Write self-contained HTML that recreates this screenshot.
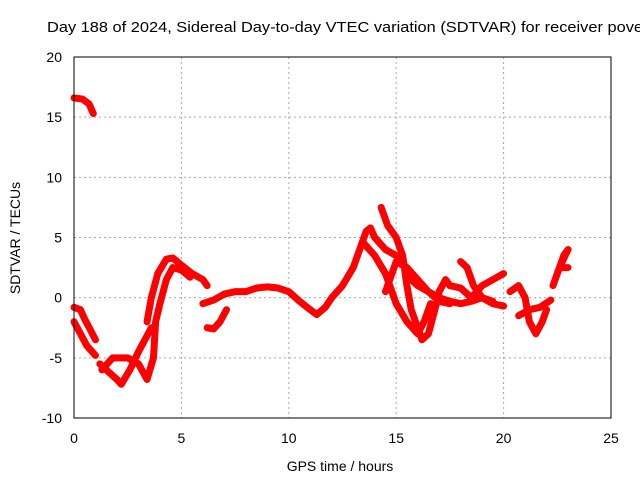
<!DOCTYPE html>
<html><head><meta charset="utf-8"><style>
body{margin:0;background:#fff;}
text{font-family:"Liberation Sans",sans-serif;}
</style></head><body>
<svg id="chart" width="640" height="480" viewBox="0 0 640 480" xmlns="http://www.w3.org/2000/svg">
<rect width="640" height="480" fill="#fff"/>
<text x="47" y="32" font-size="15" textLength="596" lengthAdjust="spacingAndGlyphs" fill="#000">Day 188 of 2024, Sidereal Day-to-day VTEC variation (SDTVAR) for receiver pove</text>
<g id="grid"></g>
<g id="series"></g>
<rect x="74" y="57" width="537" height="361" fill="none" stroke="#000" stroke-width="1"/>
<g id="axes"></g>
<text x="340" y="471" font-size="14" text-anchor="middle">GPS time / hours</text>
<text transform="translate(20,238) rotate(-90)" font-size="14" text-anchor="middle">SDTVAR / TECUs</text>
</svg>
<script>
const xTicks=[0,5,10,15,20,25];
const yTicks=[-10,-5,0,5,10,15,20];
const trackA=[[0,16.6],[0.4,16.5],[0.7,16.1],[0.9,15.3]];
const trackB=[[0,-0.8],[0.3,-1],[0.5,-1.8],[0.8,-2.8],[1,-3.5]];
const trackC=[[0,-2],[0.3,-3],[0.6,-4],[1,-4.8]];
const trackD=[[1.2,-5.5],[1.5,-6],[2,-6.8],[2.2,-7.2],[2.6,-6],[3,-4.5],[3.3,-3.5],[3.6,-2.5]];
const trackE=[[1.3,-6],[1.8,-5],[2.5,-5],[3,-5.5],[3.4,-6.8],[3.7,-5],[3.8,-2],[4,-0.5],[4.3,1.5],[4.6,2.5],[5,2.3],[5.4,1.7]];
const trackF=[[3.4,-2],[3.6,0],[3.9,2],[4.3,3.2],[4.6,3.3],[5,2.7],[5.5,2],[6,1.5],[6.2,1]];
const trackG=[[6,-0.5],[6.5,-0.2],[7,0.3],[7.5,0.5],[8,0.5],[8.5,0.8],[9,0.9],[9.5,0.8],[10,0.5],[10.5,-0.3],[11,-1],[11.3,-1.4],[11.7,-0.8],[12,0],[12.5,1],[13,2.5],[13.3,4],[13.6,5.5],[13.8,5.8],[14,5],[14.5,4],[15,3.5],[15.3,3],[15.7,1.5],[16,1],[16.5,0.5],[17,0],[17.5,-0.3],[18,-0.5],[18.5,-0.3],[19,0],[19.5,-0.5],[20,-0.7]];
const trackH=[[6.2,-2.5],[6.5,-2.6],[6.8,-2],[7.1,-1]];
const trackI=[[14.3,7.5],[14.6,6],[15,5],[15.3,3.5],[15.5,1],[15.7,-1],[16,-2.5],[16.2,-3.5],[16.5,-3],[16.8,-1],[17,0.5],[17.3,1.5],[17.5,1]];
const trackJ=[[13.5,4.5],[14,3.5],[14.5,2],[15,-0.5],[15.5,-2],[16,-3],[16.3,-2],[16.6,-0.5]];
const trackK=[[14.5,0.5],[15,3],[15.5,2.5],[16,1.5],[16.5,0.5],[17,-0.3],[17.5,-0.5]];
const trackL=[[18,3],[18.3,2.5],[18.6,1],[19,0],[19.5,-0.3]];
const trackM=[[17.5,1],[18,0.8],[18.5,0],[19,1],[19.5,1.5],[20,2]];
const trackN=[[20.3,0.5],[20.7,1],[21,0],[21.2,-2],[21.5,-3],[21.8,-2],[22,-1]];
const trackO=[[20.7,-1.5],[21.2,-1],[21.7,-0.8],[22.2,-0.2]];
const trackP=[[22.3,1],[22.5,2],[22.8,3.5],[23,4],[22.6,2.5],[23,2.5]];
const tracks=[trackA,trackB,trackC,trackD,trackE,trackF,trackG,trackH,trackI,trackJ,trackK,trackL,trackM,trackN,trackO,trackP];
const NS="http://www.w3.org/2000/svg";
function sx(v){return 74+(v-0)/25*537;}
function sy(v){return 418-(v+10)/30*361;}
const grid=document.getElementById('grid'),axes=document.getElementById('axes'),series=document.getElementById('series');
xTicks.forEach(t=>{
  if(t>0&&t<25){const l=document.createElementNS(NS,'line');
  
  
  l.setAttribute('x1',sx(t));l.setAttribute('x2',sx(t));l.setAttribute('y1',57);l.setAttribute('y2',418);
  l.setAttribute('stroke','#aaa');l.setAttribute('stroke-dasharray','2,3');grid.appendChild(l);}
  const tx=document.createElementNS(NS,'text');
  
  
  tx.setAttribute('x',sx(t));tx.setAttribute('y',443);tx.setAttribute('font-size','14');tx.setAttribute('text-anchor','middle');
  tx.textContent=t;axes.appendChild(tx);
});
yTicks.forEach(t=>{
  if(t>-10&&t<20){const l=document.createElementNS(NS,'line');
  
  
  l.setAttribute('x1',74);l.setAttribute('x2',611);l.setAttribute('y1',sy(t));l.setAttribute('y2',sy(t));
  l.setAttribute('stroke','#aaa');l.setAttribute('stroke-dasharray','2,3');grid.appendChild(l);}
  const tx=document.createElementNS(NS,'text');
  
  
  tx.setAttribute('x',62);tx.setAttribute('y',sy(t)+5);tx.setAttribute('font-size','14');tx.setAttribute('text-anchor','end');
  tx.textContent=t;axes.appendChild(tx);
});
tracks.forEach(tr=>{
  const p=document.createElementNS(NS,'polyline');
  
  
  p.setAttribute('points',tr.map(d=>sx(d[0])+','+sy(d[1])).join(' '));
  p.setAttribute('fill','none');p.setAttribute('stroke','#f00');p.setAttribute('stroke-width','7');
  p.setAttribute('stroke-linejoin','round');p.setAttribute('stroke-linecap','round');
  series.appendChild(p);
});
</script>
</body></html>
